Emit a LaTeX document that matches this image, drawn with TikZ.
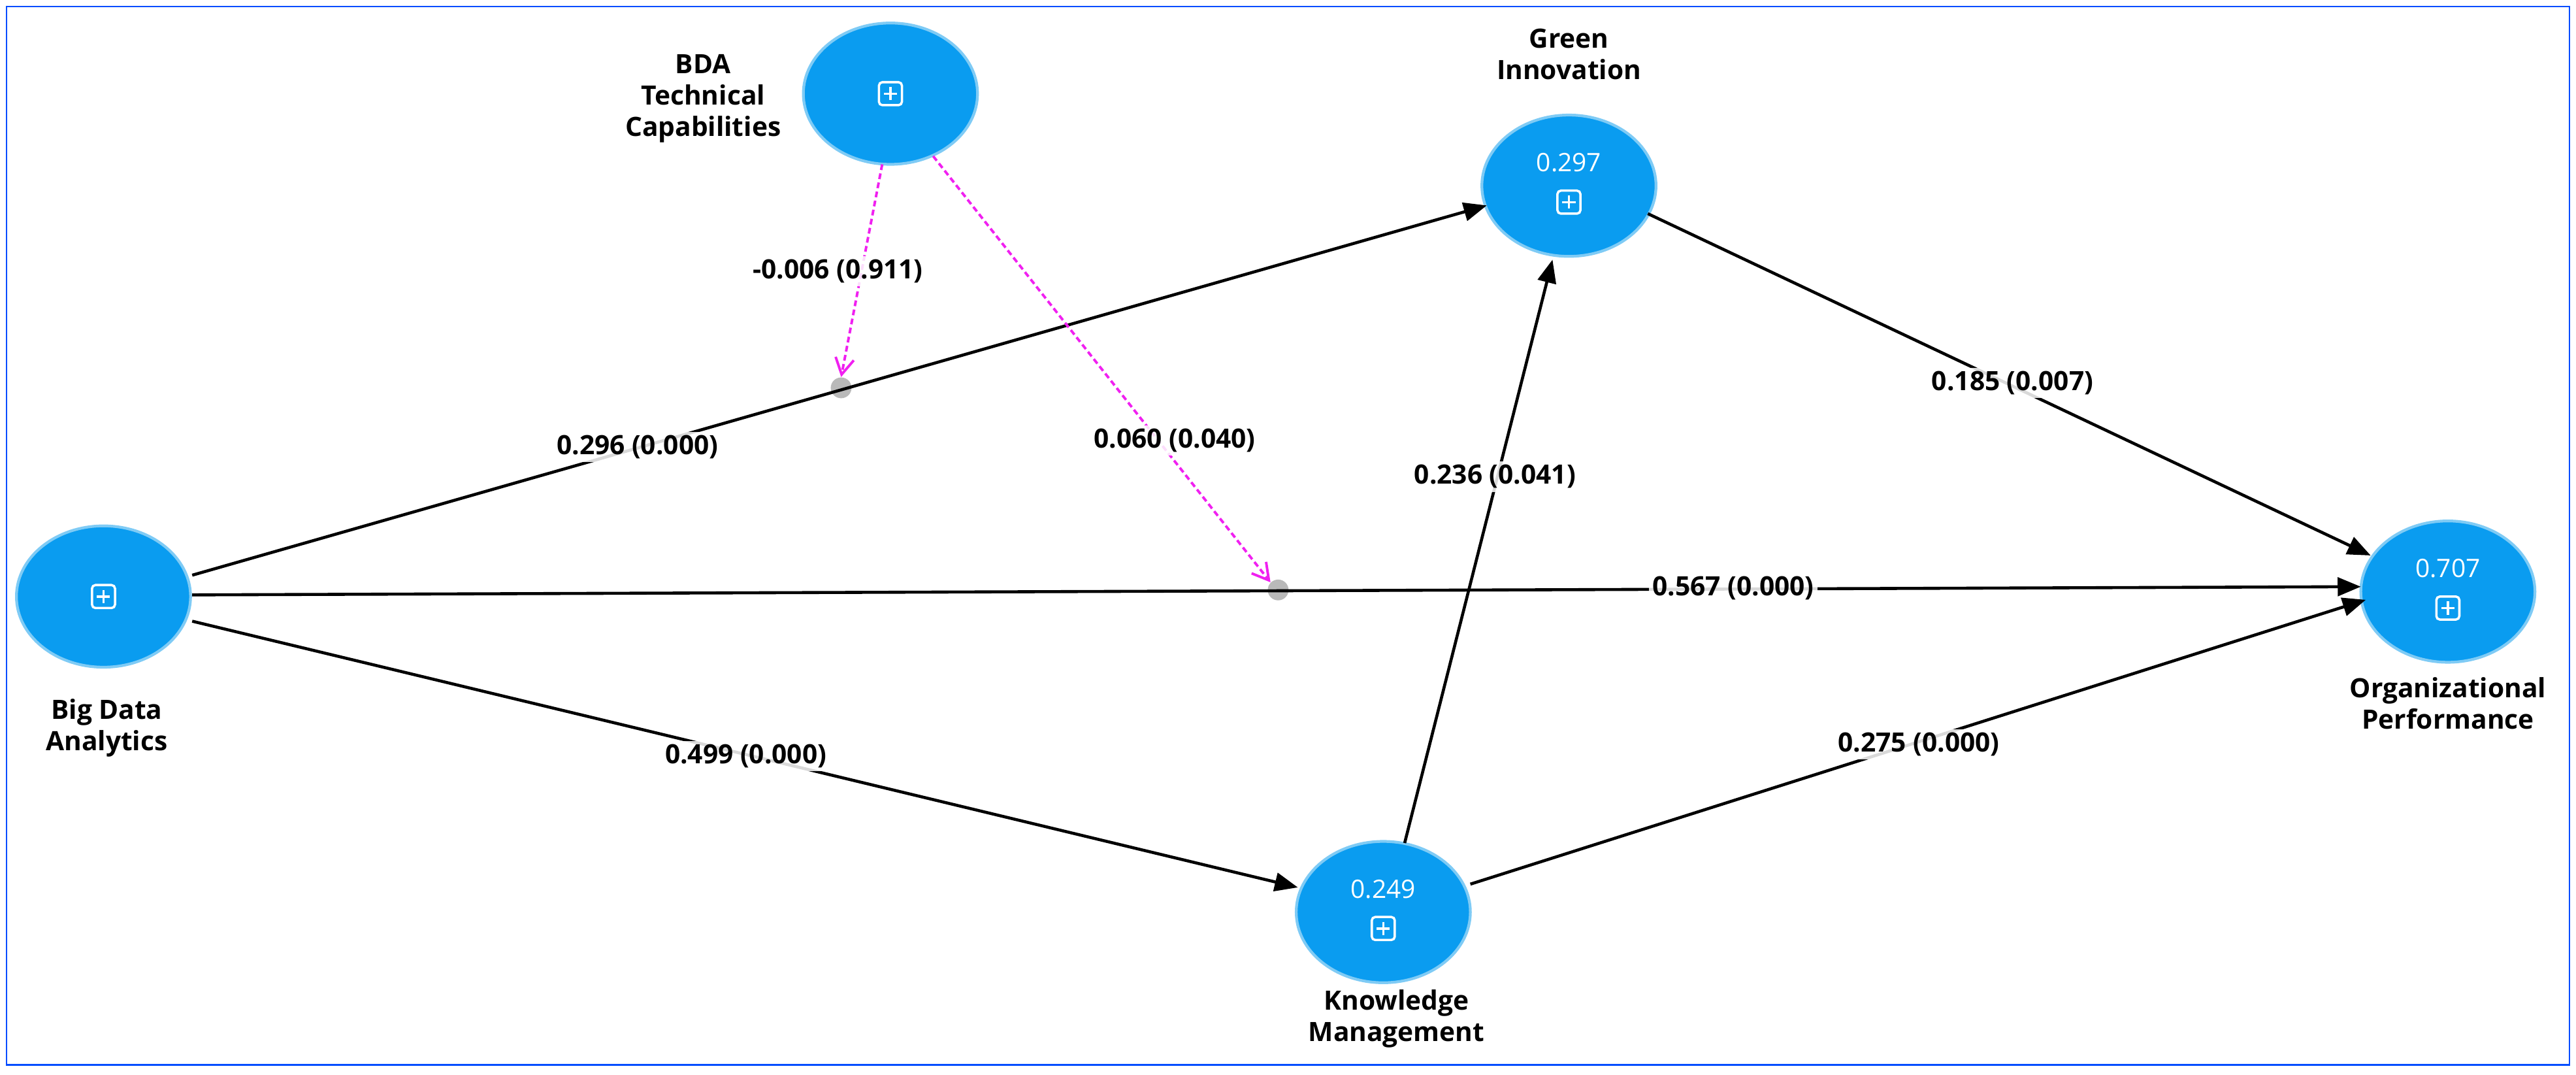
\documentclass[tikz,border=0pt]{standalone}
\usepackage{fontspec}
\setmainfont{Open Sans}
\usetikzlibrary{arrows.meta,calc}
\definecolor{lv}{HTML}{0A9CF0}
\definecolor{lvb}{HTML}{7FCBF5}
\definecolor{mag}{HTML}{F020F0}
\begin{document}
\begin{tikzpicture}[x=0.025cm,y=-0.025cm,
  lat/.style={draw=lvb,fill=lv,line width=1.2pt},
  lab/.style={font=\bfseries\fontsize{11.5}{13.5}\selectfont,align=center},
  val/.style={font=\bfseries\fontsize{11.5}{13}\selectfont,fill=white,fill opacity=0.85,text opacity=1,inner sep=1.5pt},
  pth/.style={line width=1.3pt,-{Triangle[length=10pt,width=8pt]}},
  mod/.style={mag,line width=1.1pt,dash pattern=on 2.5pt off 1.5pt,-{Straight Barb[length=7pt,width=8pt]}},
  dot/.style={circle,fill=gray!55,inner sep=0pt,minimum size=9pt}]
\useasboundingbox (0,0) rectangle (1568,654);
\draw[draw=blue!70!cyan,line width=0.8pt] (4,4) rectangle (1564,648);
\newcommand{\icon}[1]{\draw[white,line width=1pt,rounded corners=1.5pt] ($(#1)+(-7,-7)$) rectangle ($(#1)+(7,7)$);
 \draw[white,line width=1pt] ($(#1)+(-4,0)$)--($(#1)+(4,0)$) ($(#1)+(0,-4)$)--($(#1)+(0,4)$);}
\coordinate (bda) at (63,363);
\coordinate (tc) at (542,57);
\coordinate (gi) at (955,113);
\coordinate (km) at (842,555);
\coordinate (op) at (1490,360);
\foreach \c in {bda,tc,gi,km,op}{\fill[lat,draw=lvb] (\c) ellipse [x radius=53,y radius=43];}
\icon{bda}\icon{tc}
\icon{$(gi)+(0,10)$}\icon{$(km)+(0,10)$}\icon{$(op)+(0,10)$}
\node[white,font=\fontsize{11}{12}\selectfont] at ($(gi)+(0,-14)$) {0.297};
\node[white,font=\fontsize{11}{12}\selectfont] at ($(km)+(0,-14)$) {0.249};
\node[white,font=\fontsize{11}{12}\selectfont] at ($(op)+(0,-14)$) {0.707};
\node[lab] at (428,60) {BDA\\Technical\\Capabilities};
\node[lab] at (955,33) {Green\\Innovation};
\node[lab] at (65,443) {Big Data\\Analytics};
\node[lab] at (850,620) {Knowledge\\Management};
\node[lab] at (1490,428) {Organizational\\Performance};
\coordinate (a1) at (117,350); \coordinate (g1) at (905,125);
\coordinate (a2) at (117,362); \coordinate (o2) at (1437,357);
\coordinate (a3) at (117,378); \coordinate (k3) at (790,540);
\coordinate (k4) at (855,513); \coordinate (g4) at (945,158);
\coordinate (g5) at (1003,130); \coordinate (o5) at (1443,338);
\coordinate (k6) at (895,538); \coordinate (o6) at (1440,365);
\node[dot] (d1) at (512,236) {};
\node[dot] (d2) at (778,359) {};
\draw[pth] (a1)--(g1);
\draw[pth] (a2)--(o2);
\draw[pth] (a3)--(k3);
\draw[pth] (k4)--(g4);
\draw[pth] (g5)--(o5);
\draw[pth] (k6)--(o6);
\coordinate (t1) at (537,100); \coordinate (t2) at (568,95);
\draw[mod] (t1)--(d1.north);
\draw[mod] (t2)--(d2.north west);
\node[val] at (388,272) {0.296 (0.000)};
\node[val] at (1055,358) {0.567 (0.000)};
\node[val] at (454,460) {0.499 (0.000)};
\node[val] at (910,290) {0.236 (0.041)};
\node[val] at (1225,233) {0.185 (0.007)};
\node[val] at (1168,453) {0.275 (0.000)};
\node[val] at (510,165) {-0.006 (0.911)};
\node[val] at (715,268) {0.060 (0.040)};
\end{tikzpicture}
\end{document}
